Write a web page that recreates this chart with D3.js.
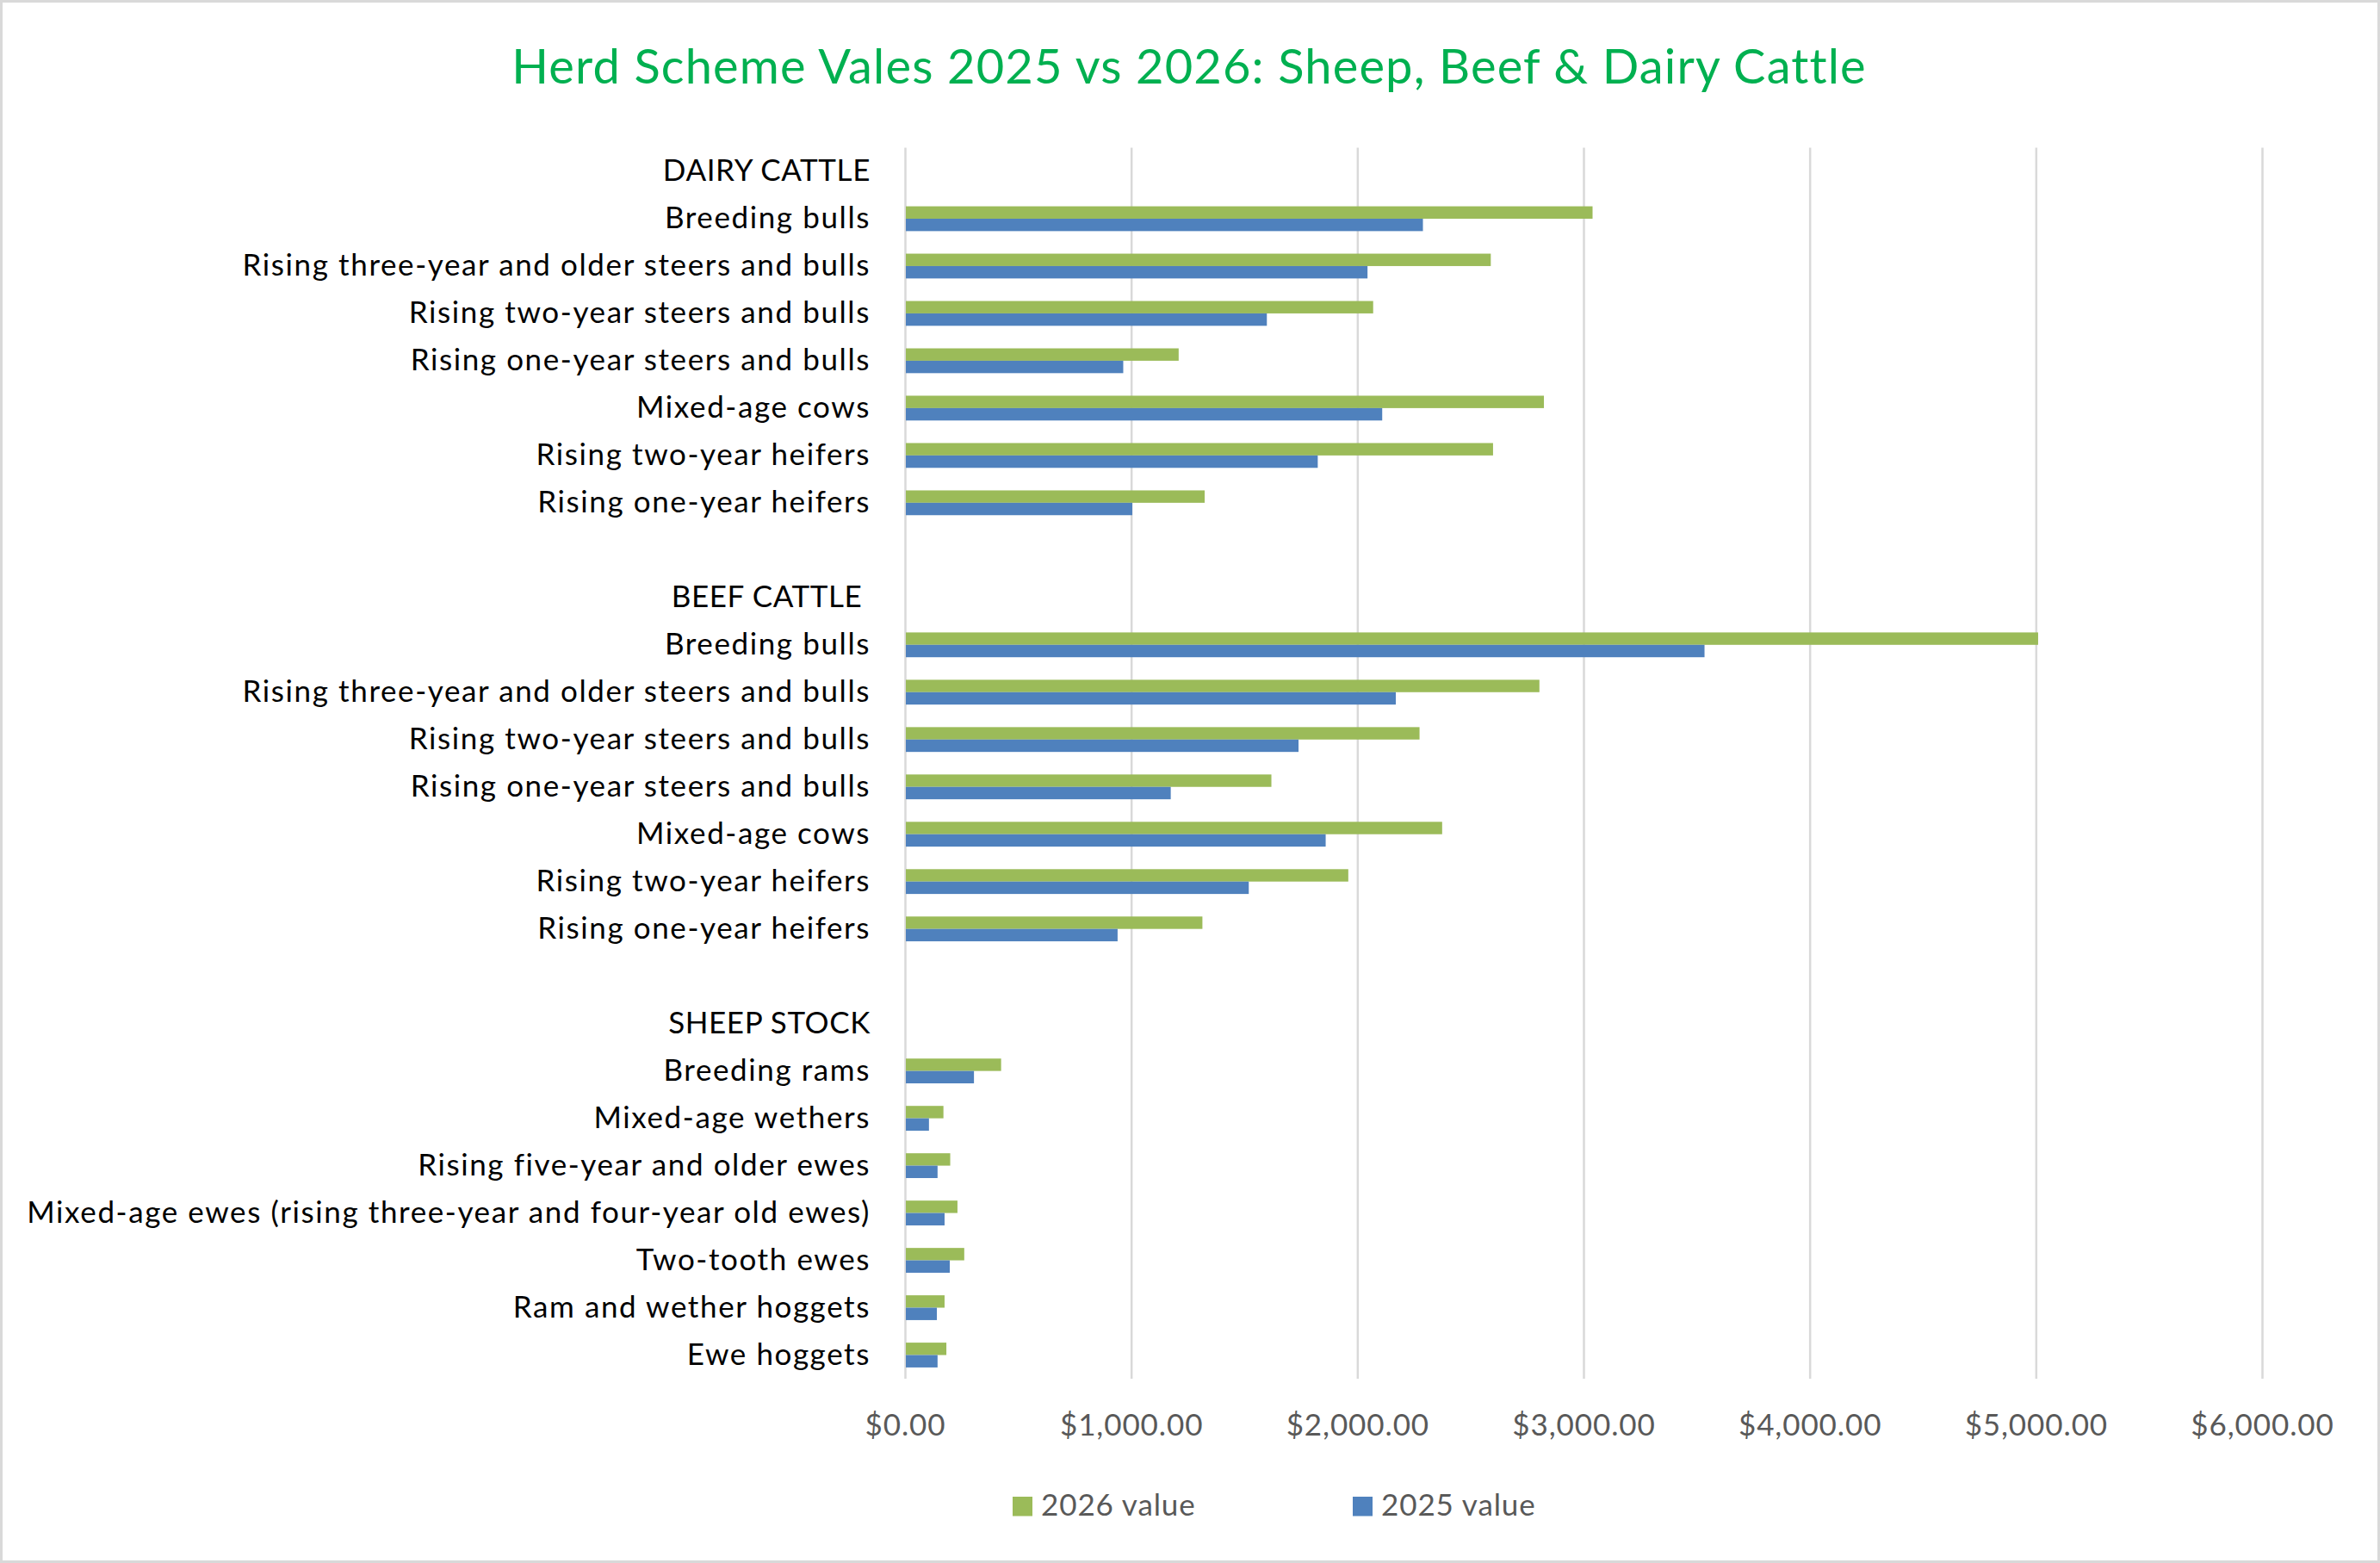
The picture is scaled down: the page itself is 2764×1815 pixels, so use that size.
<!DOCTYPE html>
<html lang="en">
<head>
<meta charset="UTF-8">
<title>Herd Scheme Vales 2025 vs 2026</title>
<script src="https://d3js.org/d3.v7.min.js"></script>
<style>
    html, body { margin: 0; padding: 0; background: #fff; }
    svg { display: block; font-family: Lato, "Open Sans", sans-serif; }
    .cat text { white-space: pre; }
</style>
</head>
<body>
<svg width="2764" height="1815"></svg>
<script>
// categories top to bottom; "" rows are the blank spacers between groups
const categories = [
    "DAIRY CATTLE",
    "Breeding bulls",
    "Rising three-year and older steers and bulls",
    "Rising two-year steers and bulls",
    "Rising one-year steers and bulls",
    "Mixed-age cows",
    "Rising two-year heifers",
    "Rising one-year heifers",
    "",
    "BEEF CATTLE ",
    "Breeding bulls",
    "Rising three-year and older steers and bulls",
    "Rising two-year steers and bulls",
    "Rising one-year steers and bulls",
    "Mixed-age cows",
    "Rising two-year heifers",
    "Rising one-year heifers",
    "",
    "SHEEP STOCK",
    "Breeding rams",
    "Mixed-age wethers",
    "Rising five-year and older ewes",
    "Mixed-age ewes (rising three-year and four-year old ewes)",
    "Two-tooth ewes",
    "Ram and wether hoggets",
    "Ewe hoggets"
];

// null = header / spacer row, no bar
const value2026 = [
    null, 3040, 2590, 2070, 1210, 2825, 2600, 1325,
    null,
    null, 5010, 2805, 2275, 1620, 2375, 1960, 1315,
    null,
    null, 425, 170, 200, 232, 262, 175, 183
];
const value2025 = [
    null, 2290, 2045, 1600, 965, 2110, 1825, 1005,
    null,
    null, 3535, 2170, 1740, 1175, 1860, 1520, 940,
    null,
    null, 305, 106, 144, 175, 198, 141, 144
];

const seriesNames = ["2026 value", "2025 value"];
const seriesColors = ["#9BBB59", "#4F81BD"];
const xTicks = [0, 1000, 2000, 3000, 4000, 5000, 6000];

const svg = d3.select("svg");
const W = 2764, H = 1815;

// chart border
svg.append("rect")
    .attr("x", 1.5).attr("y", 1.5)
    .attr("width", W - 3).attr("height", H - 3)
    .attr("fill", "#fff")
    .attr("stroke", "#d9d9d9")
    .attr("stroke-width", 3);

// title
svg.append("text")
    .attr("x", 1381).attr("y", 97)
    .attr("text-anchor", "middle")
    .attr("fill", "#00B050")
    .attr("font-size", 56)
    .attr("letter-spacing", 1.15)
    .text("Herd Scheme Vales 2025 vs 2026: Sheep, Beef & Dairy Cattle");

const plot = {left: 1051, right: 2627, top: 171.5, bottom: 1601};

const x = d3.scaleLinear().domain([0, 6000]).range([plot.left, plot.right]);
const y = d3.scaleBand()
    .domain(d3.range(categories.length))
    .range([plot.top, plot.bottom])
    .padding(0);

// gridlines + tick labels
const xAxis = svg.append("g")
    .attr("transform", `translate(0,${plot.bottom})`)
    .call(d3.axisBottom(x)
        .tickValues(xTicks)
        .tickSize(-(plot.bottom - plot.top))
        .tickPadding(41)
        .tickFormat(d => "$" + d3.format(",.2f")(d)));
xAxis.select(".domain").remove();
xAxis.selectAll(".tick line").attr("stroke", "#d9d9d9").attr("stroke-width", 2.5);
xAxis.selectAll(".tick text")
    .attr("fill", "#595959")
    .attr("font-size", 35)
    .attr("letter-spacing", 0.9)
    .attr("font-family", "Lato, sans-serif");

// category labels (group headers are all caps, so less extra spacing)
const yAxis = svg.append("g")
    .attr("class", "cat")
    .attr("transform", `translate(${plot.left},0)`)
    .call(d3.axisLeft(y)
        .tickSize(0)
        .tickPadding(40)
        .tickFormat(i => categories[i]));
yAxis.select(".domain").remove();
yAxis.selectAll(".tick text")
    .attr("fill", "#000")
    .attr("font-size", 35)
    .attr("letter-spacing", i => value2026[i] === null ? 0.6 : 1.6)
    .attr("font-family", "Lato, sans-serif");

// bars: 2026 on top, 2025 below
const barH = 14.4;
const series = [value2026, value2025];
series.forEach((vals, s) => {
    svg.append("g")
        .selectAll("rect")
        .data(vals.map((v, i) => ({v, i})).filter(d => d.v !== null))
        .join("rect")
        .attr("x", x(0) + 1)
        .attr("y", d => y(d.i) + y.bandwidth() / 2 - barH + s * barH)
        .attr("width", d => x(d.v) - x(0) - 1)
        .attr("height", barH)
        .attr("fill", seriesColors[s]);
});

// legend
const legendX = [1176, 1571];
const legend = svg.append("g");
seriesNames.forEach((name, s) => {
    legend.append("rect")
        .attr("x", legendX[s]).attr("y", 1738)
        .attr("width", 23).attr("height", 22.5)
        .attr("fill", seriesColors[s]);
    legend.append("text")
        .attr("x", legendX[s] + 33).attr("y", 1760)
        .attr("fill", "#595959")
        .attr("font-size", 35)
        .attr("letter-spacing", 0.9)
        .text(name);
});
</script>
</body>
</html>
